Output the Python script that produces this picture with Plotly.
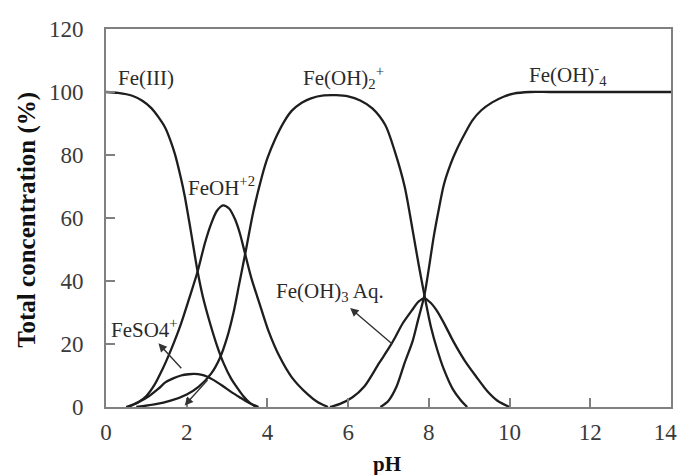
import plotly.graph_objects as go

# ---- data ----
fe3_ph = [0, 0.3, 0.65, 0.9, 1.13, 1.3, 1.47, 1.6, 1.71, 1.85, 1.95, 2.1, 2.27, 2.4, 2.58, 2.75, 2.91, 3.1, 3.23, 3.4, 3.55, 3.72]
fe3_val = [100, 99.7, 98.8, 97.2, 94.8, 92, 88.6, 84.5, 80.2, 73, 67, 56, 43, 35, 26.5, 19.5, 14, 9, 6.5, 3.5, 1.5, 0]

feoh2_ph = [0.55, 0.8, 1.0, 1.2, 1.4, 1.54, 1.7, 1.86, 2.05, 2.27, 2.45, 2.6, 2.75, 2.9, 3.05, 3.2, 3.32, 3.42, 3.6, 3.8, 4.03, 4.3, 4.6, 5.0, 5.25, 5.5]
feoh2_val = [0, 1.5, 3.5, 7, 12, 16, 21, 26.5, 34, 43, 52, 58, 62.3, 64, 63, 59.5, 55, 50, 41, 33, 24, 16, 9.5, 4, 1.5, 0]

feoh2p_ph = [0.75, 1.2, 1.6, 2.0, 2.3, 2.6, 2.82, 3.0, 3.16, 3.3, 3.47, 3.65, 3.87, 4.0, 4.19, 4.4, 4.6, 4.85, 5.08, 5.4, 5.7, 6.0, 6.3, 6.6, 6.92, 7.16, 7.4, 7.6, 7.75, 7.89, 8.05, 8.2, 8.37, 8.6, 8.8, 8.95]
feoh2p_val = [0, 0.8, 2, 4, 6.5, 10.5, 15.5, 22, 30, 39, 50, 62, 73.5, 79, 85, 90.3, 94, 96.6, 98, 98.9, 99, 98.6, 97.3, 94.8, 89.5, 81, 70, 56, 45, 35.5, 25.5, 18.5, 12, 5.5, 2, 0]

feoh3_ph = [5.55, 5.8, 6.1, 6.4, 6.77, 7.0, 7.16, 7.35, 7.57, 7.75, 7.89, 8.05, 8.2, 8.4, 8.6, 8.9, 9.17, 9.45, 9.7, 10.0]
feoh3_val = [0, 1, 3, 6.5, 14, 18.5, 22, 26.5, 30.5, 33.5, 34.5, 33, 30.5, 26, 21, 14.5, 9.7, 5, 2, 0]

feoh4_ph = [6.8, 7.0, 7.2, 7.4, 7.6, 7.73, 7.89, 8.0, 8.12, 8.25, 8.37, 8.55, 8.7, 8.9, 9.08, 9.3, 9.57, 9.85, 10.1, 10.5, 11, 12, 13, 14]
feoh4_val = [0, 2, 6.5, 14, 21, 27.5, 35.5, 44, 54, 63, 70.5, 77.5, 82, 87, 91, 94.2, 96.7, 98.5, 99.5, 100, 100, 100, 100, 100]

feso4_ph = [0.5, 0.8, 1.06, 1.3, 1.47, 1.65, 1.86, 2.05, 2.19, 2.35, 2.5, 2.7, 2.91, 3.1, 3.3, 3.55, 3.78]
feso4_val = [0, 1.5, 3.4, 5.8, 7.8, 9.0, 10, 10.4, 10.5, 10.3, 9.7, 8.3, 6.5, 4.8, 3.2, 1.3, 0]

x_ticks = [0, 2, 4, 6, 8, 10, 12, 14]
x_tick_text = ["0", "2", "4", "6", "8", "10", "12", "14\u2007"]
y_ticks = [0, 20, 40, 60, 80, 100, 120]

series = [
    ("Fe(III)", fe3_ph, fe3_val),
    ("FeOH+2", feoh2_ph, feoh2_val),
    ("Fe(OH)2+", feoh2p_ph, feoh2p_val),
    ("Fe(OH)3 Aq.", feoh3_ph, feoh3_val),
    ("Fe(OH)4-", feoh4_ph, feoh4_val),
    ("FeSO4+", feso4_ph, feso4_val),
]

FONT = "Liberation Serif"
LINE = "#1e1e1e"

fig = go.Figure()
for name, xs, ys in series:
    fig.add_trace(go.Scatter(x=xs, y=ys, mode="lines", name=name,
                             line=dict(color=LINE, width=2.3, shape="spline", smoothing=0.8),
                             showlegend=False, hoverinfo="skip"))

lab_font = dict(family=FONT, size=21, color="#2a2a2a")
labels = [
    (1.0, 104.5, "Fe(III)"),
    (2.87, 70, "FeOH<sup>+2</sup>"),
    (5.88, 104.5, "Fe(OH)<sub>2</sub><sup>+</sup>"),
    (11.45, 105.5, "Fe(OH)<sup>-</sup><sub>4</sub>"),
    (5.54, 36.5, "Fe(OH)<sub>3</sub> Aq."),
    (0.95, 25, "FeSO4<sup>+</sup>"),
]
for x, y, t in labels:
    fig.add_annotation(x=x, y=y, xref="x", yref="y", text=t, showarrow=False,
                       font=lab_font, xanchor="center", yanchor="middle")

arrows = [
    ((1.30, 20.2), (1.90, 11.8)),
    ((1.95, 0.5), (2.55, 9.0)),
    ((6.05, 31.4), (7.13, 19.6)),
]
for (hx, hy), (tx, ty) in arrows:
    fig.add_annotation(x=hx, y=hy, ax=tx, ay=ty, xref="x", yref="y", axref="x", ayref="y",
                       text="", showarrow=True, arrowhead=2, arrowsize=1.2, arrowwidth=1.4,
                       arrowcolor="#333")

# axis titles
fig.add_annotation(x=-0.141, y=0.496, xref="paper", yref="paper", text="<b>Total concentration (%)</b>",
                   textangle=-90, showarrow=False, font=dict(family=FONT, size=25, color="#111"),
                   xanchor="center", yanchor="middle")
fig.add_annotation(x=0.4966, y=-0.152, xref="paper", yref="paper", text="<b>pH</b>",
                   showarrow=False, font=dict(family=FONT, size=21, color="#111"),
                   xanchor="center", yanchor="middle")

axis_common = dict(showgrid=False, zeroline=False, showline=True, mirror=True,
                   linecolor="#808080", linewidth=2, ticks="inside", ticklen=9,
                   tickcolor="#808080", tickwidth=1.5, ticklabeloverflow="allow",
                   tickfont=dict(family=FONT, size=23, color="#3a3a3a"))

fig.update_xaxes(range=[0, 14], tickvals=x_ticks, ticktext=x_tick_text,
                 ticklabelstandoff=3, **axis_common)
fig.update_yaxes(range=[0, 120], tickvals=y_ticks, ticktext=[str(v) for v in y_ticks],
                 ticklabelstandoff=16, **axis_common)

# page body has an 8px margin, so the figure is sized to end at the window edge
fig.update_layout(width=689, height=467, margin=dict(l=98, r=9, t=14, b=68),
                  paper_bgcolor="white", plot_bgcolor="white")

fig.write_html("out.html")
